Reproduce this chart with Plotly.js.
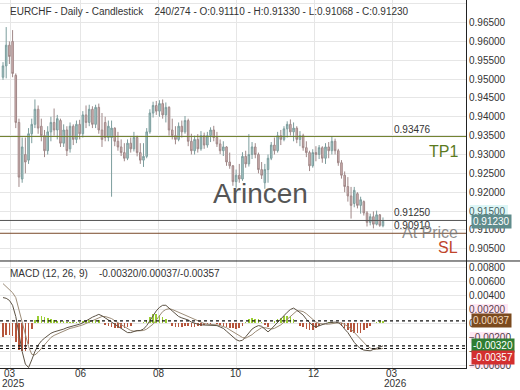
<!DOCTYPE html>
<html><head><meta charset="utf-8">
<script src="https://cdn.plot.ly/plotly-3.0.1.min.js"></script>
<style>html,body{margin:0;padding:0;background:#fff}#chart{width:520px;height:390px}</style>
</head><body><div id="chart"></div>
<script>
// ---- data ----
const titleText = "EURCHF - Daily - Candlestick    240/274 - O:0.91110 - H:0.91330 - L:0.91068 - C:0.91230";
const macdTitle = "MACD (12, 26, 9)    -0.00320/0.00037/-0.00357";
const openP = [
0.9505,0.9535,0.9590,0.9600,0.9510,0.9385,0.9235,0.9300,0.9285,0.9355,
0.9380,0.9420,0.9375,0.9350,0.9310,0.9360,0.9385,0.9365,0.9390,0.9330,
0.9365,0.9315,0.9375,0.9340,0.9380,0.9355,0.9405,0.9385,0.9420,0.9380,
0.9425,0.9365,0.9385,0.9345,0.9345,0.9370,0.9335,0.9320,0.9305,0.9290,
0.9330,0.9315,0.9345,0.9305,0.9285,0.9295,0.9360,0.9410,0.9430,0.9415,
0.9435,0.9405,0.9425,0.9365,0.9350,0.9340,0.9375,0.9360,0.9390,0.9335,
0.9310,0.9340,0.9315,0.9350,0.9325,0.9350,0.9365,0.9345,0.9328,0.9310,
0.9320,0.9280,0.9270,0.9228,0.9245,0.9235,0.9295,0.9275,0.9300,0.9320,
0.9300,0.9260,0.9225,0.9260,0.9290,0.9325,0.9310,0.9350,0.9340,0.9368,
0.9380,0.9360,0.9370,0.9340,0.9350,0.9318,0.9305,0.9270,0.9305,0.9300,
0.9318,0.9290,0.9320,0.9310,0.9335,0.9310,0.9278,0.9245,0.9215,0.9190,
0.9170,0.9196,0.9165,0.9175,0.9145,0.9120,0.9135,0.9115,0.9140,0.91110];
const highP = [
0.9545,0.9638,0.9600,0.9630,0.9515,0.9395,0.9345,0.9345,0.9370,0.9395,
0.9446,0.9430,0.9395,0.9365,0.9375,0.9400,0.9422,0.9405,0.9395,0.9380,
0.9375,0.9385,0.9380,0.9390,0.9392,0.9415,0.9430,0.9432,0.9428,0.9432,
0.9435,0.9410,0.9400,0.9390,0.9390,0.9372,0.9360,0.9340,0.9330,0.9340,
0.9345,0.9360,0.9350,0.9330,0.9330,0.9370,0.9420,0.9440,0.9442,0.9444,
0.9446,0.9438,0.9428,0.9395,0.9375,0.9385,0.9390,0.9402,0.9395,0.9355,
0.9350,0.9354,0.9362,0.9358,0.9360,0.9372,0.9376,0.9360,0.9340,0.9335,
0.9322,0.9305,0.9272,0.9260,0.9275,0.9306,0.9310,0.9354,0.9333,0.9330,
0.9305,0.9280,0.9275,0.9300,0.9333,0.9345,0.9360,0.9365,0.9375,0.9388,
0.9393,0.9385,0.9375,0.9362,0.9355,0.9335,0.9310,0.9314,0.9322,0.9325,
0.9322,0.9330,0.9333,0.9349,0.9342,0.9315,0.9285,0.9255,0.9240,0.9214,
0.9214,0.9200,0.9188,0.9178,0.9150,0.9143,0.9149,0.9151,0.9142,0.91330];
const lowP = [
0.9498,0.9502,0.9540,0.9505,0.9370,0.9214,0.9225,0.9250,0.9275,0.9330,
0.9370,0.9355,0.9335,0.9293,0.9300,0.9335,0.9350,0.9340,0.9320,0.9320,
0.9296,0.9305,0.9325,0.9330,0.9340,0.9345,0.9370,0.9375,0.9370,0.9370,
0.9355,0.9320,0.9335,0.9335,0.9188,0.9322,0.9310,0.9296,0.9282,0.9285,
0.9305,0.9308,0.9295,0.9275,0.9267,0.9290,0.9355,0.9398,0.9405,0.9400,
0.9395,0.9385,0.9350,0.9340,0.9327,0.9335,0.9345,0.9355,0.9322,0.9300,
0.9300,0.9305,0.9310,0.9315,0.9318,0.9333,0.9335,0.9320,0.9301,0.9296,
0.9270,0.9262,0.9217,0.9212,0.9225,0.9230,0.9265,0.9268,0.9288,0.9290,
0.9250,0.9235,0.9209,0.9225,0.9285,0.9300,0.9305,0.9325,0.9335,0.9345,
0.9350,0.9335,0.9330,0.9322,0.9310,0.9293,0.9256,0.9265,0.9282,0.9288,
0.9278,0.9275,0.9290,0.9300,0.9300,0.9270,0.9236,0.9200,0.9175,0.9130,
0.9160,0.9157,0.9143,0.9138,0.9109,0.9112,0.9104,0.9112,0.9108,0.91068];
const closeP = [
0.9535,0.9590,0.9560,0.9515,0.9385,0.9240,0.9320,0.9280,0.9355,0.9380,
0.9420,0.9370,0.9350,0.9310,0.9360,0.9385,0.9365,0.9395,0.9330,0.9365,
0.9310,0.9375,0.9340,0.9380,0.9355,0.9405,0.9385,0.9420,0.9380,0.9425,
0.9365,0.9340,0.9345,0.9375,0.9370,0.9335,0.9320,0.9305,0.9290,0.9330,
0.9315,0.9345,0.9305,0.9285,0.9295,0.9360,0.9410,0.9430,0.9415,0.9435,
0.9405,0.9425,0.9365,0.9350,0.9340,0.9375,0.9360,0.9390,0.9335,0.9310,
0.9340,0.9315,0.9350,0.9325,0.9350,0.9365,0.9345,0.9328,0.9310,0.9320,
0.9280,0.9270,0.9228,0.9245,0.9235,0.9295,0.9275,0.9300,0.9320,0.9300,
0.9260,0.9245,0.9260,0.9290,0.9325,0.9310,0.9350,0.9340,0.9368,0.9380,
0.9360,0.9370,0.9340,0.9350,0.9318,0.9305,0.9270,0.9305,0.9300,0.9318,
0.9290,0.9320,0.9310,0.9335,0.9310,0.9278,0.9245,0.9215,0.9190,0.9165,
0.9205,0.9165,0.9180,0.9145,0.9120,0.9135,0.9115,0.9140,0.9112,0.91230];

const macdLine = [
0.0037,0.0036,0.0033,0.0026,0.0010,-0.0018,-0.0040,-0.0058,-0.0063,-0.0052,
-0.0040,-0.0031,-0.0025,-0.0021,-0.0017,-0.0014,-0.0012,-0.0011,-0.0010,-0.0008,
-0.0006,-0.0005,-0.0004,-0.0003,-0.0001,0.0001,0.0004,0.0007,0.0009,0.0011,
0.0013,0.0011,0.0008,0.0005,0.0002,-0.0002,-0.0005,-0.0008,-0.0011,-0.0013,
-0.0013,-0.0011,-0.0010,-0.0010,-0.0008,-0.0003,0.0004,0.0012,0.0018,0.0023,
0.0026,0.0026,0.0022,0.0017,0.0013,0.0010,0.0008,0.0007,0.0005,0.0002,
0.0000,-0.0001,-0.0002,-0.0002,-0.0002,-0.0002,-0.0002,-0.0003,-0.0005,-0.0007,
-0.0011,-0.0015,-0.0019,-0.0023,-0.0025,-0.0024,-0.0019,-0.0013,-0.0008,-0.0005,
-0.0003,-0.0004,-0.0008,-0.0012,-0.0008,-0.0003,0.0001,0.0006,0.0012,0.0016,
0.0020,0.0022,0.0019,0.0015,0.0012,0.0006,0.0001,-0.0003,-0.0005,-0.0003,
-0.0001,0.0000,0.0001,0.0002,0.0002,0.0001,-0.0002,-0.0008,-0.0013,-0.0020,
-0.0027,-0.0032,-0.0036,-0.0038,-0.0039,-0.0039,-0.0037,-0.0035,-0.0033,-0.00320];
const signalLine = [
0.0057,0.0053,0.0049,0.0044,0.0037,0.0020,0.0000,-0.0018,-0.0033,-0.0044,
-0.0045,-0.0041,-0.0036,-0.0030,-0.0025,-0.0020,-0.0017,-0.0015,-0.0013,-0.0011,
-0.0008,-0.0007,-0.0006,-0.0005,-0.0003,-0.0002,0.0000,0.0002,0.0004,0.0006,
0.0008,0.0010,0.0010,0.0009,0.0007,0.0004,0.0001,-0.0002,-0.0005,-0.0008,
-0.0010,-0.0011,-0.0011,-0.0011,-0.0010,-0.0008,-0.0005,-0.0001,0.0005,0.0011,
0.0017,0.0020,0.0021,0.0020,0.0018,0.0015,0.0013,0.0011,0.0009,0.0007,
0.0005,0.0003,0.0001,0.0000,-0.0001,-0.0001,-0.0002,-0.0002,-0.0003,-0.0004,
-0.0006,-0.0009,-0.0012,-0.0015,-0.0018,-0.0020,-0.0021,-0.0019,-0.0016,-0.0012,
-0.0009,-0.0006,-0.0006,-0.0007,-0.0008,-0.0007,-0.0005,-0.0002,0.0002,0.0006,
0.0010,0.0015,0.0018,0.0018,0.0017,0.0014,0.0010,0.0006,0.0002,0.0000,
-0.0001,-0.0001,-0.0001,0.0000,0.0001,0.0001,0.0001,-0.0001,-0.0004,-0.0008,
-0.0013,-0.0018,-0.0023,-0.0028,-0.0032,-0.0035,-0.0037,-0.0037,-0.0036,-0.00357];
const histValues = [
-0.0020,-0.0017,-0.0016,-0.0018,-0.0027,-0.0038,-0.0040,-0.0040,-0.0030,-0.0008,
0.0005,0.0010,0.0011,0.0009,0.0008,0.0006,0.0005,0.0004,0.0003,0.0003,
0.0002,0.0002,0.0002,0.0002,0.0002,0.0003,0.0004,0.0005,0.0005,0.0005,
0.0005,0.0001,-0.0002,-0.0004,-0.0005,-0.0006,-0.0006,-0.0006,-0.0006,-0.0005,
-0.0003,0.0000,0.0001,0.0001,0.0002,0.0005,0.0009,0.0013,0.0013,0.0012,
0.0009,0.0006,0.0001,-0.0003,-0.0005,-0.0005,-0.0005,-0.0004,-0.0004,-0.0005,
-0.0005,-0.0004,-0.0003,-0.0002,-0.0001,-0.0001,0.0000,-0.0001,-0.0002,-0.0003,
-0.0005,-0.0006,-0.0007,-0.0008,-0.0007,-0.0004,0.0002,0.0006,0.0008,0.0007,
0.0006,0.0002,-0.0002,-0.0005,0.0000,0.0004,0.0006,0.0008,0.0010,0.0010,
0.0010,0.0007,0.0001,-0.0003,-0.0005,-0.0008,-0.0009,-0.0009,-0.0007,-0.0003,
0.0000,0.0001,0.0002,0.0002,0.0001,0.0000,-0.0003,-0.0007,-0.0009,-0.0012,
-0.0014,-0.0014,-0.0013,-0.0010,-0.0007,-0.0004,0.0000,0.0002,0.0003,0.00037];

const tickVals = [2.2, 24.3, 48.7, 73.1, 97.4, 121.9];
const tickText = ["03", "06", "08", "10", "12", "03"];
const yearTicks = [2.2, 121.9];
const yearText = ["2025", "2026"];
const levelValues = [0.93476, 0.91250, 0.90910];
const levelLabels = ["0.93476", "0.91250", "0.90910"];
const highlightPrice = [0.915];
const highlightMacd = [0.002, -0.002, -0.006];
const lastPrice = closeP[closeP.length - 1];

// ---- build ----
const barIndex = openP.map((_, i) => i);
const font = 'Liberation Sans, Arial, sans-serif';
const levelColors = ['#6f7f2c', '#555555', '#7a4a2a'];
const lastHist = histValues[histValues.length - 1];
const lastMacd = macdLine[macdLine.length - 1];
const lastSignal = signalLine[signalLine.length - 1];

const traces = [
  {type: 'candlestick', x: barIndex, open: openP, high: highP, low: lowP, close: closeP,
   xaxis: 'x', yaxis: 'y', whiskerwidth: 0,
   increasing: {line: {color: '#7c9d9d', width: 1}, fillcolor: '#a9caca'},
   decreasing: {line: {color: '#a08888', width: 1}, fillcolor: '#d6b4b4'},
   hoverinfo: 'skip'},
  {type: 'bar', x: barIndex, y: histValues, xaxis: 'x', yaxis: 'y2', width: 0.5,
   marker: {color: histValues.map(v => v >= 0 ? '#9acd32' : '#b5553c'), line: {width: 0}}},
  {type: 'scatter', mode: 'lines', x: barIndex, y: signalLine, xaxis: 'x', yaxis: 'y2',
   line: {color: '#9c8c78', width: 1}},
  {type: 'scatter', mode: 'lines', x: barIndex, y: macdLine, xaxis: 'x', yaxis: 'y2',
   line: {color: '#5c5244', width: 1}}
];

const shapes = [];
levelValues.forEach((lv, k) => shapes.push({type: 'line', xref: 'paper', x0: 0, x1: 1, yref: 'y', y0: lv, y1: lv,
  line: {color: levelColors[k], width: 1}}));
[lastHist, lastMacd, lastSignal].forEach(v => shapes.push({type: 'line', xref: 'paper', x0: 0, x1: 1, yref: 'y2', y0: v, y1: v,
  line: {color: '#111', width: 1.2, dash: '3px,3px'}}));
shapes.push({type: 'line', xref: 'paper', x0: 0, x1: 1.12, yref: 'paper', y0: 0.2908, y1: 0.2908, line: {color: '#222', width: 1}});
// faint label highlights on the price scale
highlightPrice.forEach(v => shapes.push({type: 'rect', xref: 'paper', x0: 1.008, x1: 1.09, yref: 'y', y0: v - 0.0016, y1: v + 0.0016,
  fillcolor: 'rgba(120,220,220,0.25)', line: {width: 0}, layer: 'above'}));
highlightMacd.forEach(v => shapes.push({type: 'rect', xref: 'paper', x0: 1.008, x1: 1.09, yref: 'y2', y0: v - 0.0008, y1: v + 0.0008,
  fillcolor: 'rgba(255,120,190,0.18)', line: {width: 0}, layer: 'above'}));

const ann = [];
const txtFont = {family: font, size: 10, color: '#333'};
ann.push({text: titleText, xref: 'paper', yref: 'paper', x: 0.017, y: 0.970, xanchor: 'left', yanchor: 'middle', showarrow: false, font: txtFont});
ann.push({text: macdTitle, xref: 'paper', yref: 'paper', x: 0.017, y: 0.258, xanchor: 'left', yanchor: 'middle', showarrow: false, font: txtFont});
tickVals.forEach((tv, k) => ann.push({text: tickText[k], xref: 'x', yref: 'paper', x: tv, y: 0, xanchor: 'center', yanchor: 'middle', yshift: -5, showarrow: false, font: txtFont}));
yearTicks.forEach((tv, k) => ann.push({text: yearText[k], xref: 'x', yref: 'paper', x: tv, y: 0, xanchor: 'center', yanchor: 'middle', yshift: -15, xshift: 3, showarrow: false, font: txtFont}));
levelValues.forEach((lv, k) => ann.push({text: levelLabels[k], xref: 'paper', yref: 'y', x: 0.841, y: lv, xanchor: 'left', yanchor: 'bottom', showarrow: false, font: txtFont}));
ann.push({text: 'TP1', xref: 'paper', yref: 'y', x: 0.988, y: levelValues[0], xanchor: 'right', yanchor: 'top', yshift: -4, showarrow: false, font: {family: font, size: 16, color: '#5b7a1e'}});
ann.push({text: 'At Price', xref: 'paper', yref: 'y', x: 0.988, y: levelValues[2], xanchor: 'right', yanchor: 'middle', yshift: 1, showarrow: false, font: {family: font, size: 16, color: 'rgba(120,120,120,0.85)'}});
ann.push({text: 'SL', xref: 'paper', yref: 'y', x: 0.988, y: levelValues[2], xanchor: 'right', yanchor: 'top', yshift: -4, showarrow: false, font: {family: font, size: 16, color: '#c0442b'}});
ann.push({text: 'Arincen', xref: 'paper', yref: 'paper', x: 0.558, y: 0.475, xanchor: 'center', yanchor: 'middle', showarrow: false, font: {family: font, size: 28, color: '#555'}});
// axis badges
const badge = (txt, yref, y, bg, fg, ys) => ({text: txt, xref: 'paper', yref: yref, x: 1, y: y, xanchor: 'left', yanchor: 'middle', xshift: 5, yshift: ys || 0,
  showarrow: false, bgcolor: bg, borderpad: 1, font: {family: font, size: 10, color: fg}});
ann.push(badge(lastPrice.toFixed(5), 'y', lastPrice, '#5f8c8c', '#ffffff'));
ann.push(badge(lastHist.toFixed(5), 'y2', lastHist, '#7b4a1e', '#f5dcc0'));
ann.push(badge(lastMacd.toFixed(5), 'y2', lastMacd, '#2e7d32', '#ffffff'));
ann.push(badge(lastSignal.toFixed(5), 'y2', lastSignal, '#d32f2f', '#ffffff', -9));

const axisCommon = {showgrid: true, gridcolor: '#e6e6e6', gridwidth: 1, zeroline: false, showline: true, linecolor: '#222', linewidth: 1, ticks: '', tickfont: txtFont};

const layout = {
  width: 520, height: 390, margin: {l: 0, r: 54, t: 0, b: 22},
  paper_bgcolor: '#fff', plot_bgcolor: '#fff', showlegend: false, hovermode: false,
  font: {family: font, size: 10, color: '#333'},
  xaxis: Object.assign({}, axisCommon, {range: [-0.94, 145], tickmode: 'array', tickvals: tickVals, ticktext: tickText, showticklabels: false, anchor: 'y2', rangeslider: {visible: false}}),
  yaxis: Object.assign({}, axisCommon, {domain: [0.2908, 1], range: [0.90175, 0.97098], side: 'right', tick0: 0.9, dtick: 0.005, tickformat: '.5f', anchor: 'x'}),
  yaxis2: Object.assign({}, axisCommon, {domain: [0, 0.2908], range: [-0.00636, 0.00893], side: 'right', tick0: 0, dtick: 0.002, tickformat: '.5f', anchor: 'x'}),
  shapes: shapes, annotations: ann, bargap: 0
};

Plotly.newPlot('chart', traces, layout, {staticPlot: true, displayModeBar: false});
</script></body></html>
